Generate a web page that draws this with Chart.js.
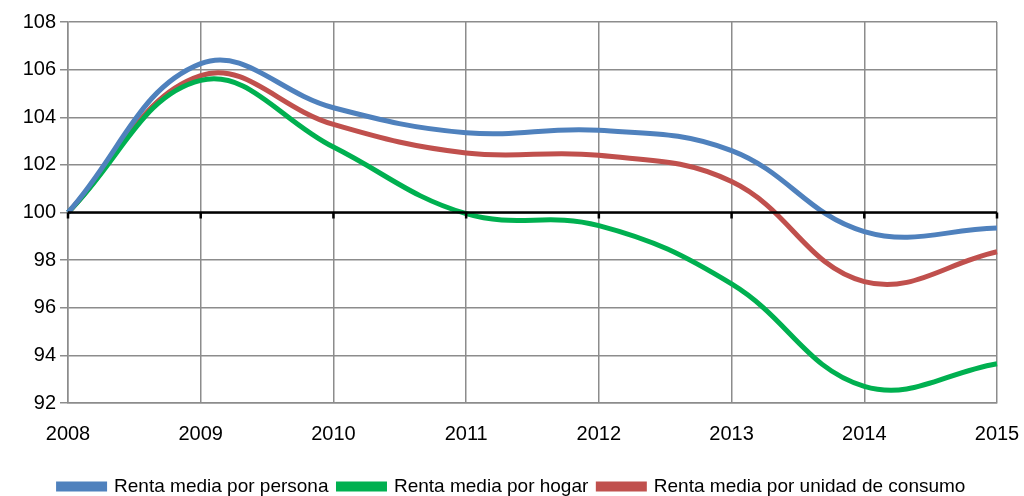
<!DOCTYPE html>
<html>
<head>
<meta charset="utf-8">
<script src="https://cdn.jsdelivr.net/npm/chart.js@4.4.1/dist/chart.umd.min.js"></script>
<style>
  html, body { margin: 0; padding: 0; background: #fff; }
  #wrap { width: 1024px; height: 496px; }
</style>
</head>
<body>
<div id="wrap"><canvas id="chart" width="1024" height="496"></canvas></div>
<script>
const years = ['2008', '2009', '2010', '2011', '2012', '2013', '2014', '2015'];
const porPersona = [100, 106.25, 104.4, 103.35, 103.45, 102.6, 99.2, 99.35];
const porHogar = [100, 105.55, 102.75, 99.95, 99.45, 97.0, 92.7, 93.65];
const porUnidad = [100, 105.75, 103.7, 102.5, 102.4, 101.3, 97.1, 98.35];
const yTicks = [92, 94, 96, 98, 100, 102, 104, 106, 108];

const FONT = "'Liberation Sans', Arial, sans-serif";

// black base line at 100 with small ticks under each year
const baseLine = {
  id: 'baseLine',
  afterDatasetsDraw(chart) {
    const { ctx, scales: { x, y } } = chart;
    const py = y.getPixelForValue(100);
    ctx.save();
    ctx.strokeStyle = '#000';
    ctx.lineWidth = 2.5;
    ctx.beginPath();
    ctx.moveTo(x.left, py);
    ctx.lineTo(x.right, py);
    ctx.stroke();
    x.ticks.forEach((t, i) => {
      const px = x.getPixelForTick(i);
      ctx.beginPath();
      ctx.moveTo(px, py);
      ctx.lineTo(px, py + 6);
      ctx.stroke();
    });
    ctx.restore();
  }
};

const ds = (label, data, color) => ({
  label, data,
  borderColor: color,
  backgroundColor: color,
  borderWidth: 5,
  pointRadius: 0,
  tension: 0.4,
  fill: false
});

new Chart(document.getElementById('chart'), {
  type: 'line',
  data: {
    labels: years,
    datasets: [
      ds('Renta media por persona', porPersona, '#4F81BD'),
      ds('Renta media por hogar', porHogar, '#00B050'),
      ds('Renta media por unidad de consumo', porUnidad, '#C0504D')
    ]
  },
  options: {
    responsive: false,
    animation: false,
    layout: { padding: { top: 22, right: 0, left: 0, bottom: -10 } },
    plugins: {
      legend: {
        position: 'bottom',
        labels: {
          color: '#000',
          font: { family: FONT, size: 19 },
          boxWidth: 46,
          boxHeight: 5,
          padding: 10
        }
      },
      tooltip: { enabled: false }
    },
    scales: {
      x: {
        offset: false,
        grid: { color: '#8c8c8c', lineWidth: 1.5, drawTicks: false },
        border: { color: '#8c8c8c', width: 1.5 },
        ticks: { color: '#000', font: { family: FONT, size: 20 }, padding: 19, maxRotation: 0 },
        afterFit(s) { s.height = 64; s.paddingLeft = 0; s.paddingRight = 27; }
      },
      y: {
        min: 92, max: 108,
        afterBuildTicks(s) { s.ticks = yTicks.map(v => ({ value: v })); },
        grid: { color: '#8c8c8c', lineWidth: 1.5, tickLength: 8 },
        border: { color: '#8c8c8c', width: 1.5 },
        ticks: { color: '#000', font: { family: FONT, size: 20 }, padding: 4 },
        afterFit(s) { s.width = 68; s.paddingTop = 0; s.paddingBottom = 0; }
      }
    }
  },
  plugins: [baseLine]
});
</script>
</body>
</html>
